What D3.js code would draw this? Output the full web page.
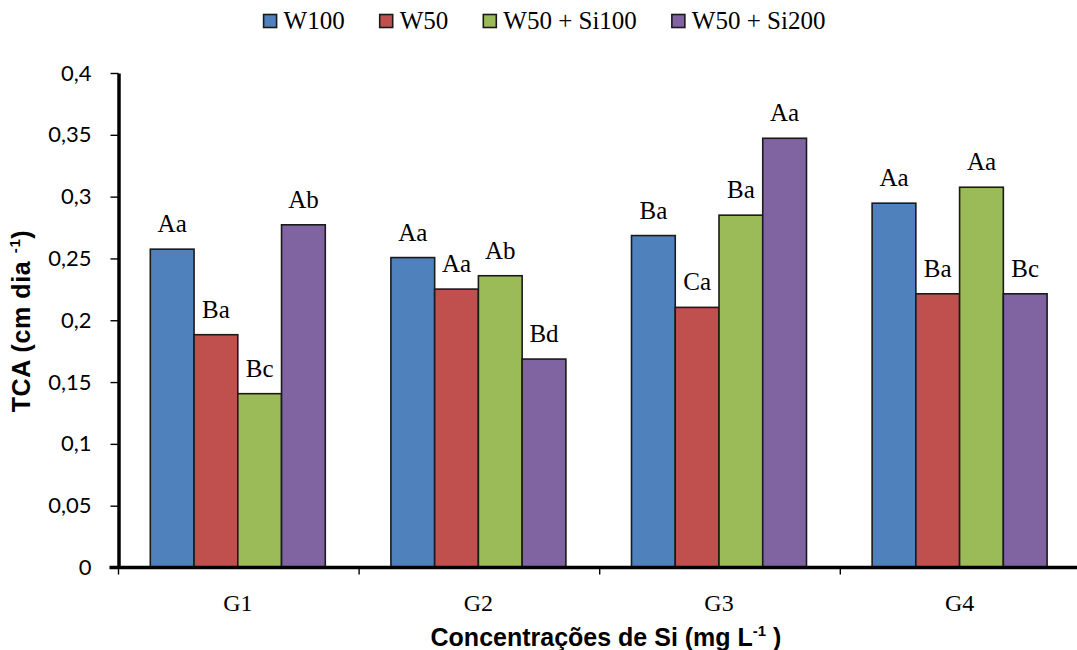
<!DOCTYPE html>
<html>
<head>
<meta charset="utf-8">
<script src="https://cdn.jsdelivr.net/npm/d3@7"></script>
<style>
  body { margin: 0; background: #fff; }
  svg { display: block; }
</style>
</head>
<body>
<svg id="chart" width="1077" height="650"></svg>
<script>
// Categories and series
const groups = ["G1", "G2", "G3", "G4"];
const seriesNames = ["W100", "W50", "W50 + Si100", "W50 + Si200"];
const seriesColors = ["#4F81BD", "#C0504D", "#9BBB59", "#8064A2"];

// TCA values (cm dia-1) per group, one array per series
const w100     = [0.2575, 0.2507, 0.2685, 0.2947];
const w50      = [0.1883, 0.2252, 0.2104, 0.2214];
const w50si100 = [0.1406, 0.2360, 0.2850, 0.3076];
const w50si200 = [0.2772, 0.1686, 0.3472, 0.2214];

// Significance letters shown above each bar
const letters100   = ["Aa", "Aa", "Ba", "Aa"];
const letters50    = ["Ba", "Aa", "Ca", "Ba"];
const lettersSi100 = ["Bc", "Ab", "Ba", "Aa"];
const lettersSi200 = ["Ab", "Bd", "Aa", "Bc"];

// Y axis ticks
const yTicks = [0, 0.05, 0.1, 0.15, 0.2, 0.25, 0.3, 0.35, 0.4];

const seriesValues = [w100, w50, w50si100, w50si200];
const seriesLetters = [letters100, letters50, lettersSi100, lettersSi200];

const svg = d3.select("#chart");
const width = 1077, height = 650;

const plotLeft = 117.5, plotTop = 73, plotBottom = 567.5;
const groupStep = 240.6;

const x0 = d3.scaleBand()
  .domain(groups)
  .range([plotLeft, plotLeft + groupStep * groups.length])
  .paddingInner(0).paddingOuter(0);

const x1 = d3.scaleBand()
  .domain(seriesNames)
  .range([0, x0.bandwidth()])
  .paddingInner(0)
  .paddingOuter(0.75);

const y = d3.scaleLinear().domain([0, 0.4]).range([plotBottom, plotTop]);

const serif = "'Liberation Serif', 'Times New Roman', serif";
const sans = "'Liberation Sans', Arial, sans-serif";
const tickFont = "Lato, 'Open Sans', sans-serif";

// Bars
const rows = groups.map((g, gi) => ({
  group: g,
  items: seriesNames.map((s, si) => ({
    series: s, si, value: seriesValues[si][gi], letter: seriesLetters[si][gi]
  }))
}));

const gGroups = svg.append("g").selectAll("g")
  .data(rows).join("g")
  .attr("transform", d => `translate(${x0(d.group)},0)`);

gGroups.selectAll("rect")
  .data(d => d.items).join("rect")
  .attr("x", d => x1(d.series))
  .attr("y", d => y(d.value))
  .attr("width", x1.bandwidth())
  .attr("height", d => y(0) - y(d.value))
  .attr("fill", d => seriesColors[d.si])
  .attr("stroke", "#1a1a1a")
  .attr("stroke-width", 1.6);

gGroups.selectAll("text.letter")
  .data(d => d.items).join("text")
  .attr("class", "letter")
  .attr("x", d => x1(d.series) + x1.bandwidth() / 2)
  .attr("y", d => y(d.value) - 17)
  .attr("text-anchor", "middle")
  .attr("font-family", serif)
  .attr("font-size", 25)
  .attr("fill", "#000")
  .text(d => d.letter);

// Y axis
const yAxis = d3.axisLeft(y)
  .tickValues(yTicks)
  .tickSize(8)
  .tickSizeOuter(0)
  .tickPadding(19)
  .tickFormat(d => String(+d.toFixed(2)).replace(".", ","));

const gy = svg.append("g")
  .attr("transform", `translate(${plotLeft + 1},0)`)
  .call(yAxis);
gy.select(".domain").attr("stroke", "#000").attr("stroke-width", 3.5);
gy.selectAll(".tick line").attr("stroke", "#000").attr("stroke-width", 1.4);
gy.selectAll(".tick text")
  .attr("font-family", tickFont)
  .attr("font-size", 22)
  .attr("fill", "#000");

// X axis: line across the plot, boundary ticks between groups, group labels
const xAxis = d3.axisBottom(x0).tickSize(0).tickSizeOuter(0).tickPadding(26);
const gx = svg.append("g")
  .attr("transform", `translate(0,${plotBottom})`)
  .call(xAxis);
gx.select(".domain").remove();
gx.selectAll(".tick text")
  .attr("font-family", serif)
  .attr("font-size", 24)
  .attr("fill", "#000");

gx.append("line")
  .attr("x1", plotLeft - 8).attr("x2", width)
  .attr("y1", 0).attr("y2", 0)
  .attr("stroke", "#000").attr("stroke-width", 3.5);

gx.selectAll("line.boundary")
  .data(groups).join("line")
  .attr("class", "boundary")
  .attr("x1", d => x0(d) + 1).attr("x2", d => x0(d) + 1)
  .attr("y1", 0).attr("y2", 7)
  .attr("stroke", "#000").attr("stroke-width", 1.4);

// Axis titles
const yTitle = svg.append("text")
  .attr("transform", `translate(30,321) rotate(-90)`)
  .attr("text-anchor", "middle")
  .attr("font-family", sans)
  .attr("font-weight", "bold")
  .attr("font-size", 25)
  .attr("letter-spacing", 0.6)
  .attr("fill", "#000");
yTitle.append("tspan").text("TCA (cm dia ");
yTitle.append("tspan").attr("font-size", 15).attr("dy", -10).text("-1");
yTitle.append("tspan").attr("dy", 10).text(")");

const xTitle = svg.append("text")
  .attr("x", 606)
  .attr("y", 646)
  .attr("text-anchor", "middle")
  .attr("font-family", sans)
  .attr("font-weight", "bold")
  .attr("font-size", 25)
  .attr("fill", "#000");
xTitle.append("tspan").text("Concentrações de Si (mg L");
xTitle.append("tspan").attr("font-size", 15).attr("dy", -10).text("-1");
xTitle.append("tspan").attr("dy", 10).text(" )");

// Legend
const legend = svg.append("g");
const legendItems = legend.selectAll("g")
  .data(seriesNames).join("g");

legendItems.append("rect")
  .attr("width", 13).attr("height", 13)
  .attr("y", 14.5)
  .attr("fill", (d, i) => seriesColors[i])
  .attr("stroke", "#1a1a1a")
  .attr("stroke-width", 1.6);

legendItems.append("text")
  .attr("x", 20)
  .attr("y", 28.5)
  .attr("font-family", serif)
  .attr("font-size", 25)
  .attr("fill", "#000")
  .text(d => d);

let cursor = 0;
const legendGap = 35;
legendItems.each(function () {
  const w = 20 + this.querySelector("text").getComputedTextLength();
  d3.select(this).attr("transform", `translate(${cursor},0)`);
  cursor += w + legendGap;
});
const legendWidth = cursor - legendGap;
legend.attr("transform", `translate(${544.5 - legendWidth / 2},0)`);
</script>
</body>
</html>
